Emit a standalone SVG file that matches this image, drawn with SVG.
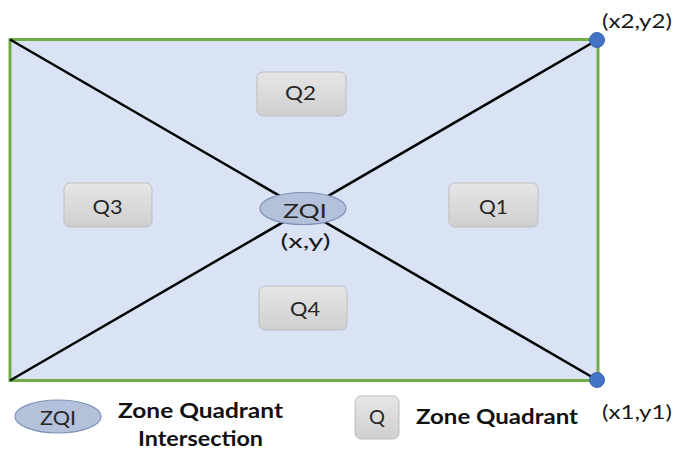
<svg xmlns="http://www.w3.org/2000/svg" width="673" height="452" viewBox="0 0 673 452">
<style>
.q{fill:url(#qg);stroke:#BDBDBD;stroke-width:1}
.qt{font-family:Lato,"Open Sans",sans-serif;font-size:20px;fill:#262626;text-anchor:middle}
.zqi{fill:#B4C1DA;stroke:#7F93B8;stroke-width:1.2}
.lbl{font-family:Lato,"Open Sans",sans-serif;font-size:20px;fill:#1a1a1a}
.bold{font-family:Lato,"Open Sans",sans-serif;font-size:21px;font-weight:bold;fill:#111}
.dot{fill:#4472C4;stroke:#3A64B0;stroke-width:1}
</style>
<defs>
<linearGradient id="qg" x1="0" y1="0" x2="0" y2="1">
<stop offset="0" stop-color="#E6E6E6"/>
<stop offset="1" stop-color="#CFCFCF"/>
</linearGradient>
</defs>
<rect width="673" height="452" fill="#fff"/>
<g id="zone">
<rect x="10" y="39.5" width="588" height="341" fill="#DAE3F3" stroke="#70AD47" stroke-width="3"/>
</g>
<g id="connectors" stroke="#000" stroke-width="2.5">
<line x1="10" y1="39.5" x2="598" y2="380.5"/>
<line x1="10" y1="380.5" x2="598" y2="39.5"/>
</g>
<g id="q2"><rect class="q" x="257" y="72" width="89" height="44" rx="6"/><text class="qt" x="300.5" y="100" textLength="31" lengthAdjust="spacingAndGlyphs">Q2</text></g>
<g id="q3"><rect class="q" x="64" y="183" width="88" height="44" rx="6"/><text class="qt" x="107.5" y="214" textLength="30" lengthAdjust="spacingAndGlyphs">Q3</text></g>
<g id="q1"><rect class="q" x="449" y="183" width="89" height="44" rx="6"/><text class="qt" x="493.5" y="214" textLength="29" lengthAdjust="spacingAndGlyphs">Q1</text></g>
<g id="q4"><rect class="q" x="259" y="286" width="88" height="44" rx="6"/><text class="qt" x="305" y="316" textLength="30" lengthAdjust="spacingAndGlyphs">Q4</text></g>
<g id="zqi"><ellipse class="zqi" cx="303" cy="208.5" rx="43" ry="16"/><text class="qt" x="305" y="218" textLength="44" lengthAdjust="spacingAndGlyphs">ZQI</text></g>
<text class="lbl" x="305.5" y="248" text-anchor="middle" textLength="50" lengthAdjust="spacingAndGlyphs">(x,y)</text>
<g id="p2"><circle class="dot" cx="597" cy="40" r="7.5"/><text class="lbl" x="602" y="28" textLength="70" lengthAdjust="spacingAndGlyphs">(x2,y2)</text></g>
<g id="p1"><circle class="dot" cx="597" cy="380" r="7.5"/><text class="lbl" x="602" y="419" textLength="70" lengthAdjust="spacingAndGlyphs">(x1,y1)</text></g>
<g id="legend-zqi"><ellipse class="zqi" cx="58" cy="416.5" rx="43" ry="16.5"/><text class="qt" x="58" y="425" textLength="36" lengthAdjust="spacingAndGlyphs">ZQI</text>
<text class="bold" x="118" y="418" textLength="165" lengthAdjust="spacingAndGlyphs">Zone Quadrant</text>
<text class="bold" x="138" y="446" textLength="125" lengthAdjust="spacingAndGlyphs">Intersection</text></g>
<g id="legend-q"><rect class="q" x="355" y="396" width="44" height="43" rx="6"/><text class="qt" x="377" y="424" textLength="16" lengthAdjust="spacingAndGlyphs">Q</text>
<text class="bold" x="416" y="424" textLength="162" lengthAdjust="spacingAndGlyphs">Zone Quadrant</text></g>
</svg>
